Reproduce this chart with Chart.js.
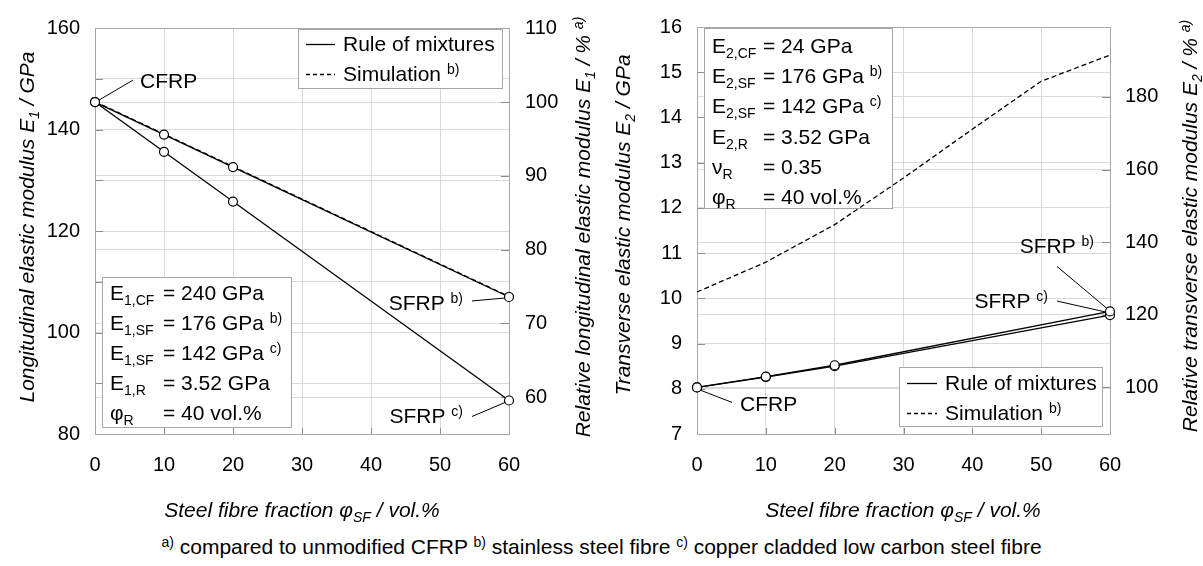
<!DOCTYPE html>
<html>
<head>
<meta charset="utf-8">
<script src="https://cdn.jsdelivr.net/npm/chart.js@4/dist/chart.umd.min.js"></script>
<style>
  html, body { margin: 0; padding: 0; background: #fff; }
  #wrap { position: relative; width: 1203px; height: 566px; overflow: hidden; }
  #cL { position: absolute; left: 0; top: 0; }
  #cR { position: absolute; left: 600px; top: 0; }
  #note {
    position: absolute; left: 0; top: 535px; width: 1203px; text-align: center;
    font-family: "Liberation Sans", Arial, sans-serif; font-size: 21px; color: #000; white-space: nowrap;
  }
  #note sup { font-size: 14px; vertical-align: 7px; line-height: 0; }
</style>
</head>
<body>
<div id="wrap">
  <canvas id="cL" width="600" height="530"></canvas>
  <canvas id="cR" width="603" height="530"></canvas>
  <div id="note"><sup>a)</sup> compared to unmodified CFRP <sup>b)</sup> stainless steel fibre <sup>c)</sup> copper cladded low carbon steel fibre</div>
</div>
<script>
// ---- data -------------------------------------------------------------
const fraction    = [0, 10, 20, 60];                 // steel fibre fraction, vol.%
const fractionSim = [0, 10, 20, 30, 40, 50, 60];

// longitudinal modulus E1 / GPa
const e1MixStainless = [145.4, 139.0, 132.6, 107.0];
const e1MixCopper    = [145.4, 135.6, 125.8, 86.6];
const e1SimStainless = [145.5, 139.1, 132.7, 107.1];

// transverse modulus E2 / GPa
const e2MixStainless = [8.03, 8.27, 8.52, 9.71];
const e2MixCopper    = [8.03, 8.26, 8.50, 9.63];
const e2SimStainless = [10.14, 10.80, 11.63, 12.66, 13.74, 14.80, 15.38];

// axis ticks
const xTicks       = [0, 10, 20, 30, 40, 50, 60];
const e1Ticks      = [80, 90, 100, 110, 120, 130, 140, 150, 160];
const e1Labels     = [80, 100, 120, 140, 160];
const e1RelTicks   = [60, 70, 80, 90, 100, 110];
const e2Ticks      = [7, 8, 9, 10, 11, 12, 13, 14, 15, 16];
const e2RelTicks   = [100, 120, 140, 160, 180];

// reference (unmodified CFRP) values for the relative axes
const e1Ref = e1MixStainless[0];
const e2Ref = e2MixStainless[0];

// ---- styling ----------------------------------------------------------
const FONT  = '"Liberation Sans", Arial, sans-serif';
const GRID  = '#d9d9d9';
const FRAME = '#a6a6a6';
const TICK  = '#8c8c8c';
const TXT   = 21;

const R   = t => ({ t, k: 'n' });
const SUB = t => ({ t, k: 'sub' });
const SUP = t => ({ t, k: 'sup' });

function partFont(p, size, italic) {
  const s = p.k === 'n' ? size : Math.round(size * 0.66);
  return (italic ? 'italic ' : '') + s + 'px ' + FONT;
}
function partDy(p) { return p.k === 'sub' ? 5 : p.k === 'sup' ? -7 : 0; }

function richWidth(ctx, parts, size, italic) {
  let w = 0;
  for (const p of parts) { ctx.font = partFont(p, size, italic); w += ctx.measureText(p.t).width; }
  return w;
}
function drawRich(ctx, x, y, parts, size, italic, align) {
  const w = richWidth(ctx, parts, size, italic);
  let cx = align === 'center' ? x - w / 2 : align === 'right' ? x - w : x;
  ctx.textAlign = 'left';
  ctx.textBaseline = 'alphabetic';
  ctx.fillStyle = '#000';
  for (const p of parts) {
    ctx.font = partFont(p, size, italic);
    ctx.fillText(p.t, cx, y + partDy(p));
    cx += ctx.measureText(p.t).width;
  }
}
function drawRotated(ctx, cx, cy, parts, size) {
  ctx.save();
  ctx.translate(cx, cy);
  ctx.rotate(-Math.PI / 2);
  drawRich(ctx, 0, 7, parts, size, true, 'center');
  ctx.restore();
}
function line(ctx, x0, y0, x1, y1, color, width, dash) {
  ctx.save();
  ctx.strokeStyle = color; ctx.lineWidth = width; ctx.setLineDash(dash || []);
  ctx.beginPath(); ctx.moveTo(x0, y0); ctx.lineTo(x1, y1); ctx.stroke();
  ctx.restore();
}
function box(ctx, x, y, w, h) {
  ctx.save();
  ctx.fillStyle = '#fff';
  ctx.fillRect(x, y, w, h);
  ctx.strokeStyle = FRAME; ctx.lineWidth = 1;
  ctx.strokeRect(x + 0.5, y + 0.5, w, h);
  ctx.restore();
}

// ---- panel decorations: frame, inner ticks, boxes, legend, labels, titles
function panel(spec) {
  return {
    id: 'panel',
    beforeDatasetsDraw(chart) {
      const ctx = chart.ctx, a = chart.chartArea, s = chart.scales;
      ctx.save();
      for (const v of spec.leftTicks) {
        const y = Math.round(s.y.getPixelForValue(v)) + 0.5;
        line(ctx, a.left, y, a.left + 8, y, TICK, 1);
      }
      for (const v of spec.rightTicks) {
        const y = Math.round(s.yRel.getPixelForValue(v)) + 0.5;
        line(ctx, a.right - 8, y, a.right, y, TICK, 1);
      }
      for (const v of xTicks) {
        const x = Math.round(s.x.getPixelForValue(v)) + 0.5;
        line(ctx, x, a.bottom - 6, x, a.bottom, TICK, 1);
      }
      ctx.strokeStyle = FRAME; ctx.lineWidth = 1;
      ctx.strokeRect(Math.round(a.left) + 0.5, Math.round(a.top) + 0.5,
                     Math.round(a.right - a.left), Math.round(a.bottom - a.top));

      // material parameter box
      const p = spec.params;
      box(ctx, p.x, p.y, p.w, p.h);
      p.rows.forEach((row, i) => {
        const yb = p.y0 + i * p.step + 7;
        drawRich(ctx, p.x1, yb, row[0], TXT, false, 'left');
        drawRich(ctx, p.x2, yb, row[1], TXT, false, 'left');
      });
      ctx.restore();
    },
    afterDatasetsDraw(chart) {
      const ctx = chart.ctx;
      ctx.save();
      // legend
      const L = spec.legend;
      box(ctx, L.x, L.y, L.w, L.h);
      line(ctx, L.l0, L.r0 + 0.5, L.l1, L.r0 + 0.5, '#000', 1.3);
      line(ctx, L.l0, L.r1 + 0.5, L.l1, L.r1 + 0.5, '#000', 1.3, [4, 3]);
      drawRich(ctx, L.tx, L.r0 + 7, [R('Rule of mixtures')], TXT, false, 'left');
      drawRich(ctx, L.tx, L.r1 + 7, [R('Simulation '), SUP('b)')], TXT, false, 'left');

      // point labels with leader lines
      for (const lab of spec.labels) {
        const pt = chart.getDatasetMeta(lab.ds).data[lab.i];
        line(ctx, pt.x + lab.l[0], pt.y + lab.l[1], pt.x + lab.l[2], pt.y + lab.l[3], '#000', 1);
        drawRich(ctx, pt.x + lab.t[0], pt.y + lab.t[1], lab.parts, TXT, false, lab.align);
      }

      // axis titles
      const T = spec.titles;
      drawRotated(ctx, T.left[0], T.left[1], T.left[2], TXT);
      drawRotated(ctx, T.right[0], T.right[1], T.right[2], TXT);
      drawRich(ctx, T.x[0], T.x[1], T.x[2], TXT, true, 'center');
      ctx.restore();
    }
  };
}

// ---- chart builders ---------------------------------------------------
function series(xs, ys, dashed, markers) {
  return {
    data: xs.map((x, i) => ({ x, y: ys[i] })),
    yAxisID: 'y',
    borderColor: '#000',
    borderWidth: 1.3,
    borderDash: dashed ? [5, 3] : [],
    pointRadius: markers ? 4.5 : 0,
    pointBackgroundColor: '#fff',
    pointBorderColor: '#000',
    pointBorderWidth: 1.2,
    fill: false,
    tension: 0,
    clip: false
  };
}
function xScale() {
  return {
    type: 'linear', position: 'bottom', min: xTicks[0], max: xTicks[xTicks.length - 1],
    afterBuildTicks: s => { s.ticks = xTicks.map(v => ({ value: v })); },
    afterFit: s => { s.height = 96; },
    grid: { color: GRID, drawTicks: false },
    border: { color: FRAME },
    ticks: { padding: 19, color: '#000', font: { family: FONT, size: 20 }, maxRotation: 0, autoSkip: false }
  };
}
function yScale(pos, min, max, ticks, labels, width, pad) {
  return {
    type: 'linear', position: pos, min, max,
    afterBuildTicks: s => { s.ticks = ticks.map(v => ({ value: v })); },
    afterFit: s => { s.width = width; },
    grid: { color: GRID, drawTicks: false },
    border: { color: FRAME },
    ticks: {
      padding: pad, color: '#000', font: { family: FONT, size: 20 }, autoSkip: false,
      callback: v => labels.includes(v) ? String(v) : ''
    }
  };
}
function baseOptions(scales) {
  return {
    responsive: false, animation: false, events: [],
    layout: { padding: { top: 21, left: 0, right: 0, bottom: 0 } },
    plugins: { legend: { display: false }, tooltip: { enabled: false } },
    scales
  };
}

// ---- longitudinal modulus ---------------------------------------------
new Chart(document.getElementById('cL'), {
  type: 'line',
  data: { datasets: [
    series(fraction, e1MixStainless, false, true),
    series(fraction, e1MixCopper, false, true),
    series(fraction, e1SimStainless, true, false)
  ] },
  options: baseOptions({
    x: xScale(),
    y: yScale('left', e1Ticks[0], e1Ticks[e1Ticks.length - 1], e1Ticks, e1Labels, 95, 15),
    yRel: yScale('right', e1Ticks[0] * 100 / e1Ref, e1Ticks[e1Ticks.length - 1] * 100 / e1Ref,
                 e1RelTicks, e1RelTicks, 91, 16)
  }),
  plugins: [panel({
    leftTicks: e1Ticks, rightTicks: e1RelTicks,
    params: {
      x: 102, y: 277, w: 189, h: 150, x1: 110, x2: 163, y0: 293, step: 30,
      rows: [
        [[R('E'), SUB('1,CF')], [R('= 240 GPa')]],
        [[R('E'), SUB('1,SF')], [R('= 176 GPa '), SUP('b)')]],
        [[R('E'), SUB('1,SF')], [R('= 142 GPa '), SUP('c)')]],
        [[R('E'), SUB('1,R')],  [R('= 3.52 GPa')]],
        [[R('φ'), SUB('R')],    [R('= 40 vol.%')]]
      ]
    },
    legend: { x: 298, y: 29, w: 204, h: 59, r0: 44, r1: 74, l0: 306, l1: 335, tx: 343 },
    labels: [
      { ds: 0, i: 0, l: [4, -2, 38, -22], t: [45, -14], align: 'left',  parts: [R('CFRP')] },
      { ds: 0, i: 3, l: [-37, 4, -4, 1],  t: [-46, 13], align: 'right', parts: [R('SFRP '), SUP('b)')] },
      { ds: 1, i: 3, l: [-37, 16, -4, 2], t: [-46, 22], align: 'right', parts: [R('SFRP '), SUP('c)')] }
    ],
    titles: {
      left:  [27, 227, [R('Longitudinal elastic modulus '), R('E'), SUB('1'), R(' / GPa')]],
      right: [583, 227, [R('Relative longitudinal elastic modulus '), R('E'), SUB('1'), R(' / % '), SUP('a)')]],
      x:     [302, 517, [R('Steel fibre fraction '), R('φ'), SUB('SF'), R(' / vol.%')]]
    }
  })]
});

// ---- transverse modulus -----------------------------------------------
new Chart(document.getElementById('cR'), {
  type: 'line',
  data: { datasets: [
    series(fraction, e2MixStainless, false, true),
    series(fraction, e2MixCopper, false, true),
    series(fractionSim, e2SimStainless, true, false)
  ] },
  options: baseOptions({
    x: xScale(),
    y: yScale('left', e2Ticks[0], e2Ticks[e2Ticks.length - 1], e2Ticks, e2Ticks, 97, 15),
    yRel: yScale('right', e2Ticks[0] * 100 / e2Ref, e2Ticks[e2Ticks.length - 1] * 100 / e2Ref,
                 e2RelTicks, e2RelTicks, 93, 15)
  }),
  plugins: [panel({
    leftTicks: e2Ticks, rightTicks: e2RelTicks,
    params: {
      x: 104, y: 28, w: 188, h: 180, x1: 112, x2: 163, y0: 46, step: 30.2,
      rows: [
        [[R('E'), SUB('2,CF')], [R('= 24 GPa')]],
        [[R('E'), SUB('2,SF')], [R('= 176 GPa '), SUP('b)')]],
        [[R('E'), SUB('2,SF')], [R('= 142 GPa '), SUP('c)')]],
        [[R('E'), SUB('2,R')],  [R('= 3.52 GPa')]],
        [[R('ν'), SUB('R')],    [R('= 0.35')]],
        [[R('φ'), SUB('R')],    [R('= 40 vol.%')]]
      ]
    },
    legend: { x: 299, y: 367, w: 203, h: 59, r0: 383, r1: 413, l0: 307, l1: 337, tx: 345 },
    labels: [
      { ds: 0, i: 0, l: [4, 3, 35, 15],     t: [43, 24],  align: 'left',  parts: [R('CFRP')] },
      { ds: 0, i: 3, l: [-53, -45, -3, -3], t: [-16, -58], align: 'right', parts: [R('SFRP '), SUP('b)')] },
      { ds: 1, i: 3, l: [-53, -14, -4, -3], t: [-62, -7],  align: 'right', parts: [R('SFRP '), SUP('c)')] }
    ],
    titles: {
      left:  [23, 225, [R('Transverse elastic modulus '), R('E'), SUB('2'), R(' / GPa')]],
      right: [590, 226, [R('Relative transverse elastic modulus '), R('E'), SUB('2'), R(' / % '), SUP('a)')]],
      x:     [303, 517, [R('Steel fibre fraction '), R('φ'), SUB('SF'), R(' / vol.%')]]
    }
  })]
});
</script>
</body>
</html>
